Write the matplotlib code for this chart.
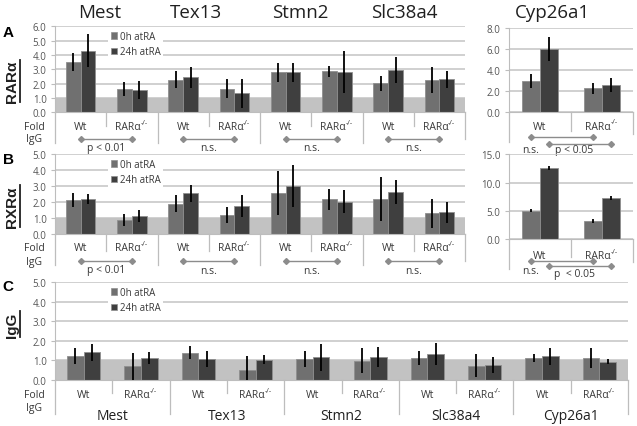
import numpy as np
import matplotlib
matplotlib.use('Agg')
import matplotlib.pyplot as plt
from matplotlib.transforms import blended_transform_factory, offset_copy
from matplotlib.patches import Patch
from matplotlib.lines import Line2D

# ---------------- data ----------------
genes_left = ['Mest', 'Tex13', 'Stmn2', 'Slc38a4']
genes_all = ['Mest', 'Tex13', 'Stmn2', 'Slc38a4', 'Cyp26a1']
genotypes = ['Wt', 'RARα']
genotype_sup = ['', '-/-']
series = ['0h atRA', '24h atRA']
pvals_left = ['p < 0.01', 'n.s.', 'n.s.', 'n.s.']
cyp_pvals_A = ['n.s.', 'p < 0.05']
cyp_pvals_B = ['n.s.', 'p  < 0.05']

# Panel A (RARα ChIP), order: gene x genotype
rara_0h = [3.53, 1.63, 2.28, 1.63, 2.79, 2.86, 2.02, 2.23]
rara_0h_err = [0.64, 0.49, 0.58, 0.66, 0.65, 0.40, 0.52, 0.90]
rara_24h = [4.30, 1.56, 2.44, 1.33, 2.79, 2.81, 2.95, 2.30]
rara_24h_err = [1.16, 0.64, 0.72, 1.02, 0.67, 1.47, 0.91, 0.57]
rara_cyp_0h = [2.95, 2.25]
rara_cyp_0h_err = [0.67, 0.52]
rara_cyp_24h = [5.97, 2.57]
rara_cyp_24h_err = [1.16, 0.65]

# Panel B (RXRα ChIP)
rxra_0h = [2.13, 0.92, 1.92, 1.19, 2.58, 2.19, 2.21, 1.31]
rxra_0h_err = [0.43, 0.37, 0.52, 0.50, 1.40, 0.65, 1.40, 0.90]
rxra_24h = [2.21, 1.13, 2.58, 1.77, 3.02, 2.04, 2.65, 1.38]
rxra_24h_err = [0.31, 0.36, 0.53, 0.66, 1.33, 0.73, 0.76, 0.65]
rxra_cyp_0h = [5.06, 3.20]
rxra_cyp_0h_err = [0.30, 0.30]
rxra_cyp_24h = [12.6, 7.24]
rxra_cyp_24h_err = [0.30, 0.35]

# Panel C (IgG control), 10 groups incl. Cyp26a1
igg_0h = [1.20, 0.68, 1.39, 0.51, 1.06, 0.98, 1.10, 0.72, 1.11, 1.10]
igg_0h_err = [0.40, 0.67, 0.33, 0.72, 0.40, 0.66, 0.35, 0.57, 0.21, 0.50]
igg_24h = [1.40, 1.12, 1.07, 1.03, 1.15, 1.15, 1.32, 0.75, 1.20, 0.92]
igg_24h_err = [0.45, 0.30, 0.40, 0.24, 0.68, 0.50, 0.56, 0.43, 0.43, 0.13]

# ---------------- style ----------------
W, H = 637, 427
C0 = '#707070'
C1 = '#3f3f3f'
EDGE = '#8f8f8f'
BAND = '#c2c2c2'
GRID = '#c8c8c8'
TXT = '#383838'
TICK = '#555555'
BR = '#8c8c8c'
BW = 0.29
FONT = ['Open Sans', 'DejaVu Sans']
BOLDFONT = ['Liberation Sans', 'DejaVu Sans']

plt.rcParams['font.family'] = FONT

fig = plt.figure(figsize=(W / 100, H / 100), dpi=100)


def fy(py):
    return 1 - py / H


def add_ax(x0, x1, ytop, ybot):
    return fig.add_axes([x0 / W, 1 - ybot / H, (x1 - x0) / W, (ybot - ytop) / H])


def draw_panel(ax, v0, e0, v1, e1, ymax, ystep, legend_xy=None, band=True):
    n = len(v0)
    x = np.arange(n)
    if band:
        ax.axhspan(0, 1, color=BAND, lw=0, zorder=0.8)
    ax.bar(x - BW / 2, v0, BW, color=C0, edgecolor=EDGE, lw=0.6, zorder=2)
    ax.bar(x + BW / 2, v1, BW, color=C1, edgecolor=EDGE, lw=0.6, zorder=2)
    ax.errorbar(x - BW / 2, v0, yerr=e0, fmt='none', ecolor='black',
                elinewidth=1.3, capsize=0, zorder=3)
    ax.errorbar(x + BW / 2, v1, yerr=e1, fmt='none', ecolor='black',
                elinewidth=1.3, capsize=0, zorder=3)
    ticks = np.arange(0, ymax + 1e-9, ystep)
    ax.set_yticks(ticks)
    ax.set_yticklabels(['%.1f' % t for t in ticks], fontsize=7, color=TICK)
    ax.set_xticks([])
    ax.yaxis.grid(True, color=GRID, lw=1.2, zorder=0.5)
    ax.set_axisbelow(True)
    for s in ['top', 'right']:
        ax.spines[s].set_visible(False)
    ax.spines['left'].set_color('#bdbdbd')
    ax.spines['bottom'].set_color('#bdbdbd')
    ax.tick_params(axis='y', length=3, color='#bdbdbd', pad=3)
    ax.set_facecolor('none')
    if legend_xy is not None:
        handles = [Patch(fc=C0, ec=EDGE, lw=0.5), Patch(fc=C1, ec=EDGE, lw=0.5)]
        leg = ax.legend(handles, series, loc='upper left',
                        bbox_to_anchor=(legend_xy[0] / W, fy(legend_xy[1])),
                        bbox_transform=fig.transFigure, fontsize=7,
                        frameon=True, facecolor='white', edgecolor='none',
                        framealpha=1, fancybox=False, handlelength=0.6,
                        handleheight=0.6, handletextpad=0.3, borderpad=0.3,
                        labelspacing=0.45, borderaxespad=0)
        leg.set_zorder(1.5)
        for t in leg.get_texts():
            t.set_color(TXT)
    ax.set_xlim(-0.5, n - 0.5)
    ax.set_ylim(0, ymax)


def category_row(ax, n, y0, y_lab, inner_len, outer_len, right_len=None):
    tr = blended_transform_factory(ax.transData, fig.transFigure)
    for i in range(n):
        g = i % 2
        if genotype_sup[g]:
            t = ax.text(i, fy(y_lab), genotypes[g],
                        transform=offset_copy(tr, fig=fig, x=-4, units='dots'),
                        ha='center', va='center', fontsize=7.5, color=TXT)
            ax.annotate(genotype_sup[g], xy=(1.0, 0.55), xycoords=t,
                        ha='left', va='bottom', fontsize=5, color=TXT,
                        annotation_clip=False)
        else:
            ax.text(i, fy(y_lab), genotypes[g], transform=tr, ha='center',
                    va='center', fontsize=7.5, color=TXT)
    for k in range(n // 2):
        xs = 2 * k + 0.5
        ax.add_line(Line2D([xs, xs], [fy(y0), fy(y0 + inner_len)], transform=tr,
                           color='#bdbdbd', lw=0.9, clip_on=False))
    for k in range(n // 2 + 1):
        xs = 2 * k - 0.5
        L = outer_len
        if k == n // 2 and right_len is not None:
            L = right_len
        ax.add_line(Line2D([xs, xs], [fy(y0), fy(y0 + L)], transform=tr,
                           color='#bdbdbd', lw=0.9, clip_on=False))
    return tr


def bracket(ax, tr, xa, xb, py):
    ax.add_line(Line2D([xa, xb], [fy(py), fy(py)], transform=tr, color=BR,
                       lw=1.0, marker='D', markersize=3, clip_on=False))


# ---------------- panel A ----------------
axA = add_ax(55, 465, 27.3, 113.3)
draw_panel(axA, rara_0h, rara_0h_err, rara_24h, rara_24h_err, 6.0, 1.0,
           legend_xy=(108, 29))
trA = category_row(axA, 8, 113.3, 128, 14, 31, 27)
for k in range(4):
    bracket(axA, trA, 2 * k, 2 * k + 1, 140)
    axA.text(2 * k + 0.5, fy(148.5), pvals_left[k], transform=trA, ha='center',
             va='center', fontsize=7.5, color=TXT)

axAc = add_ax(509, 633, 29, 113)
draw_panel(axAc, rara_cyp_0h, rara_cyp_0h_err, rara_cyp_24h, rara_cyp_24h_err,
           8.0, 2.0, band=False)
trAc = category_row(axAc, 2, 113, 127, 19, 30, 22)
bracket(axAc, trAc, 0 - BW / 2, 1 - BW / 2, 138.3)
bracket(axAc, trAc, 0 + BW / 2, 1 + BW / 2, 145)
axAc.text(0 - BW / 2, fy(150.5), cyp_pvals_A[0], transform=trAc, ha='center',
          va='center', fontsize=7.5, color=TXT)
axAc.text(0.55, fy(151), cyp_pvals_A[1], transform=trAc, ha='center',
          va='center', fontsize=7.5, color=TXT)

# ---------------- panel B ----------------
axB = add_ax(55, 465, 155.3, 235.3)
draw_panel(axB, rxra_0h, rxra_0h_err, rxra_24h, rxra_24h_err, 5.0, 1.0,
           legend_xy=(108, 157))
trB = category_row(axB, 8, 235.3, 248.5, 17, 31, 27)
for k in range(4):
    bracket(axB, trB, 2 * k, 2 * k + 1, 262)
    axB.text(2 * k + 0.5, fy(271), pvals_left[k], transform=trB, ha='center',
             va='center', fontsize=7.5, color=TXT)

axBc = add_ax(509, 633, 155.3, 240.3)
draw_panel(axBc, rxra_cyp_0h, rxra_cyp_0h_err, rxra_cyp_24h, rxra_cyp_24h_err,
           15.0, 5.0, band=False)
trBc = category_row(axBc, 2, 240.3, 256.5, 18, 30, 23)
bracket(axBc, trBc, 0 - BW / 2, 1 - BW / 2, 261.7)
bracket(axBc, trBc, 0 + BW / 2, 1 + BW / 2, 267.3)
axBc.text(0 - BW / 2, fy(272), cyp_pvals_B[0], transform=trBc, ha='center',
          va='center', fontsize=7.5, color=TXT)
axBc.text(0.55, fy(274.5), cyp_pvals_B[1], transform=trBc, ha='center',
          va='center', fontsize=7.5, color=TXT)

# ---------------- panel C ----------------
axC = add_ax(55, 628, 283, 380.7)
draw_panel(axC, igg_0h, igg_0h_err, igg_24h, igg_24h_err, 5.0, 1.0,
           legend_xy=(108, 285))
trC = category_row(axC, 10, 380.7, 396, 13, 34, 34)
for k in range(5):
    axC.text(2 * k + 0.5, fy(417), genes_all[k], transform=trC, ha='center',
             va='center', fontsize=10, color='#202020')

# ---------------- row labels ----------------
for py_f, py_i in [(128, 140), (248.5, 262), (396, 409)]:
    fig.text(34 / W, fy(py_f), 'Fold', ha='center', va='center', fontsize=7.5, color=TXT)
    fig.text(34 / W, fy(py_i), 'IgG', ha='center', va='center', fontsize=7.5, color=TXT)

# top gene titles
for name, px in zip(genes_all, [100, 196, 300, 404, 552]):
    fig.text(px / W, fy(13), name, ha='center', va='center', fontsize=13.5, color='#202020')

# panel letters
for lab, py in [('A', 33), ('B', 160), ('C', 287)]:
    fig.text(8 / W, fy(py), lab, ha='center', va='center', fontsize=11,
             fontweight='bold', family=BOLDFONT, color='black')

# y labels (bold, underlined)
ylabs = []
for lab, py in [('RARα', 82), ('RXRα', 207), ('IgG', 325)]:
    t = fig.text(12 / W, fy(py), lab, rotation=90, ha='center', va='center',
                 fontsize=11, fontweight='bold', family=BOLDFONT, color='#202020')
    ylabs.append(t)

fig.canvas.draw()
r = fig.canvas.get_renderer()
for t in ylabs:
    bb = t.get_window_extent(r)
    xl = (bb.x1 + 0.5) / W
    fig.add_artist(Line2D([xl, xl], [bb.y0 / H, bb.y1 / H], transform=fig.transFigure,
                          color='#202020', lw=1.3))

fig.savefig('out.png', dpi=100)
